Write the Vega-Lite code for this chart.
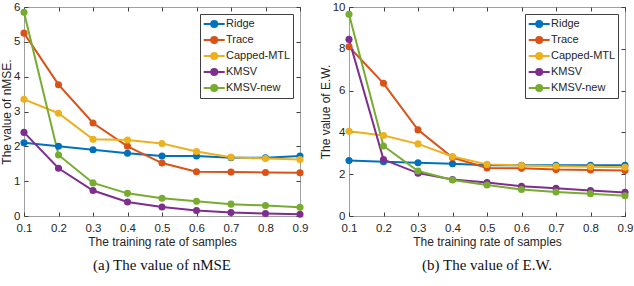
{
  "$schema": "https://vega.github.io/schema/vega-lite/v6.json",
  "padding": {"left": 0, "top": 0, "right": 0, "bottom": 2},
  "background": "white",
  "bounds": "flush",
  "spacing": 49,
  "config": {
    "font": "Liberation Sans",
    "view": {"stroke": "#a0a0a0", "strokeWidth": 1},
    "axis": {
      "grid": false,
      "domain": false,
      "tickSize": -4,
      "tickColor": "#404040",
      "labelColor": "#262626",
      "labelFont": "Liberation Sans",
      "labelFontSize": 11.5,
      "titleFont": "Liberation Sans",
      "titleFontSize": 12,
      "titleFontWeight": "normal",
      "titleColor": "#262626",
      "labelPadding": 8,
      "labelFlush": false
    },
    "legend": {
      "labelFont": "Liberation Sans",
      "labelFontSize": 11,
      "labelColor": "#262626",
      "strokeColor": "#404040",
      "fillColor": "white",
      "padding": 2,
      "rowPadding": 0,
      "labelOffset": 8
    },
    "title": {"font": "Liberation Serif", "fontSize": 15, "fontWeight": "normal", "color": "#111111", "orient": "bottom", "offset": 10}
  },
  "datasets": {
    "nmse": [
      {"rate": 0.1, "method": "Ridge", "value": 2.1},
      {"rate": 0.2, "method": "Ridge", "value": 2.0},
      {"rate": 0.3, "method": "Ridge", "value": 1.9},
      {"rate": 0.4, "method": "Ridge", "value": 1.8},
      {"rate": 0.5, "method": "Ridge", "value": 1.72},
      {"rate": 0.6, "method": "Ridge", "value": 1.72},
      {"rate": 0.7, "method": "Ridge", "value": 1.67},
      {"rate": 0.8, "method": "Ridge", "value": 1.67},
      {"rate": 0.9, "method": "Ridge", "value": 1.72},
      {"rate": 0.1, "method": "Trace", "value": 5.25},
      {"rate": 0.2, "method": "Trace", "value": 3.77},
      {"rate": 0.3, "method": "Trace", "value": 2.67},
      {"rate": 0.4, "method": "Trace", "value": 2.0},
      {"rate": 0.5, "method": "Trace", "value": 1.52},
      {"rate": 0.6, "method": "Trace", "value": 1.27},
      {"rate": 0.7, "method": "Trace", "value": 1.26},
      {"rate": 0.8, "method": "Trace", "value": 1.25},
      {"rate": 0.9, "method": "Trace", "value": 1.24},
      {"rate": 0.1, "method": "Capped-MTL", "value": 3.35},
      {"rate": 0.2, "method": "Capped-MTL", "value": 2.95},
      {"rate": 0.3, "method": "Capped-MTL", "value": 2.2},
      {"rate": 0.4, "method": "Capped-MTL", "value": 2.18},
      {"rate": 0.5, "method": "Capped-MTL", "value": 2.08},
      {"rate": 0.6, "method": "Capped-MTL", "value": 1.85},
      {"rate": 0.7, "method": "Capped-MTL", "value": 1.69},
      {"rate": 0.8, "method": "Capped-MTL", "value": 1.65},
      {"rate": 0.9, "method": "Capped-MTL", "value": 1.62},
      {"rate": 0.1, "method": "KMSV", "value": 2.4},
      {"rate": 0.2, "method": "KMSV", "value": 1.37},
      {"rate": 0.3, "method": "KMSV", "value": 0.73},
      {"rate": 0.4, "method": "KMSV", "value": 0.4},
      {"rate": 0.5, "method": "KMSV", "value": 0.26},
      {"rate": 0.6, "method": "KMSV", "value": 0.16},
      {"rate": 0.7, "method": "KMSV", "value": 0.1},
      {"rate": 0.8, "method": "KMSV", "value": 0.07},
      {"rate": 0.9, "method": "KMSV", "value": 0.05},
      {"rate": 0.1, "method": "KMSV-new", "value": 5.85},
      {"rate": 0.2, "method": "KMSV-new", "value": 1.75},
      {"rate": 0.3, "method": "KMSV-new", "value": 0.95},
      {"rate": 0.4, "method": "KMSV-new", "value": 0.65},
      {"rate": 0.5, "method": "KMSV-new", "value": 0.51},
      {"rate": 0.6, "method": "KMSV-new", "value": 0.42},
      {"rate": 0.7, "method": "KMSV-new", "value": 0.34},
      {"rate": 0.8, "method": "KMSV-new", "value": 0.3},
      {"rate": 0.9, "method": "KMSV-new", "value": 0.25}
    ],
    "ew": [
      {"rate": 0.1, "method": "Ridge", "value": 2.65},
      {"rate": 0.2, "method": "Ridge", "value": 2.6},
      {"rate": 0.3, "method": "Ridge", "value": 2.55},
      {"rate": 0.4, "method": "Ridge", "value": 2.5},
      {"rate": 0.5, "method": "Ridge", "value": 2.43},
      {"rate": 0.6, "method": "Ridge", "value": 2.43},
      {"rate": 0.7, "method": "Ridge", "value": 2.43},
      {"rate": 0.8, "method": "Ridge", "value": 2.43},
      {"rate": 0.9, "method": "Ridge", "value": 2.43},
      {"rate": 0.1, "method": "Trace", "value": 8.1},
      {"rate": 0.2, "method": "Trace", "value": 6.35},
      {"rate": 0.3, "method": "Trace", "value": 4.12},
      {"rate": 0.4, "method": "Trace", "value": 2.8},
      {"rate": 0.5, "method": "Trace", "value": 2.3},
      {"rate": 0.6, "method": "Trace", "value": 2.28},
      {"rate": 0.7, "method": "Trace", "value": 2.22},
      {"rate": 0.8, "method": "Trace", "value": 2.2},
      {"rate": 0.9, "method": "Trace", "value": 2.18},
      {"rate": 0.1, "method": "Capped-MTL", "value": 4.05},
      {"rate": 0.2, "method": "Capped-MTL", "value": 3.85},
      {"rate": 0.3, "method": "Capped-MTL", "value": 3.45},
      {"rate": 0.4, "method": "Capped-MTL", "value": 2.85},
      {"rate": 0.5, "method": "Capped-MTL", "value": 2.47},
      {"rate": 0.6, "method": "Capped-MTL", "value": 2.42},
      {"rate": 0.7, "method": "Capped-MTL", "value": 2.38},
      {"rate": 0.8, "method": "Capped-MTL", "value": 2.36},
      {"rate": 0.9, "method": "Capped-MTL", "value": 2.33},
      {"rate": 0.1, "method": "KMSV", "value": 8.45},
      {"rate": 0.2, "method": "KMSV", "value": 2.7},
      {"rate": 0.3, "method": "KMSV", "value": 2.05},
      {"rate": 0.4, "method": "KMSV", "value": 1.75},
      {"rate": 0.5, "method": "KMSV", "value": 1.6},
      {"rate": 0.6, "method": "KMSV", "value": 1.42},
      {"rate": 0.7, "method": "KMSV", "value": 1.33},
      {"rate": 0.8, "method": "KMSV", "value": 1.22},
      {"rate": 0.9, "method": "KMSV", "value": 1.13},
      {"rate": 0.1, "method": "KMSV-new", "value": 9.65},
      {"rate": 0.2, "method": "KMSV-new", "value": 3.35},
      {"rate": 0.3, "method": "KMSV-new", "value": 2.15},
      {"rate": 0.4, "method": "KMSV-new", "value": 1.72},
      {"rate": 0.5, "method": "KMSV-new", "value": 1.48},
      {"rate": 0.6, "method": "KMSV-new", "value": 1.27},
      {"rate": 0.7, "method": "KMSV-new", "value": 1.15},
      {"rate": 0.8, "method": "KMSV-new", "value": 1.07},
      {"rate": 0.9, "method": "KMSV-new", "value": 0.97}
    ]
  },
  "hconcat": [
    {
      "width": 276,
      "height": 209,
      "title": {"text": "(a)  The value of nMSE"},
      "data": {"name": "nmse"},
      "encoding": {
        "color": {"field": "method", "type": "nominal", "sort": ["Ridge","Trace","Capped-MTL","KMSV","KMSV-new"], "scale": {"domain": ["Ridge","Trace","Capped-MTL","KMSV","KMSV-new"], "range": ["#0072BD","#D95319","#EDB120","#7E2F8E","#77AC30"]}, "legend": {"title": null, "orient": "top-right", "offset": 7, "symbolType": "M-0.9,0L2.1,0M0.17,0A0.43,0.43 0 1,1 1.03,0A0.43,0.43 0 1,1 0.17,0Z", "symbolSize": 196, "symbolStrokeWidth": 2}}
      },
      "layer": [
        {
          "mark": {"type": "line", "strokeWidth": 2},
          "encoding": {
            "x": {"field": "rate", "type": "quantitative", "scale": {"domain": [0.1, 0.9]}, "axis": {"values": [0.1,0.2,0.3,0.4,0.5,0.6,0.7,0.8,0.9], "format": ".1f", "title": "The training rate of samples", "titlePadding": 3, "labelPadding": 10}},
            "y": {"field": "value", "type": "quantitative", "scale": {"domain": [0, 6], "nice": false}, "axis": {"values": [0,1,2,3,4,5,6], "title": "The value of nMSE.", "titlePadding": 0}}
          }
        },
        {
          "mark": {"type": "point", "filled": true, "size": 50, "opacity": 1},
          "encoding": {
            "x": {"field": "rate", "type": "quantitative", "axis": {"orient": "top", "values": [0.1,0.2,0.3,0.4,0.5,0.6,0.7,0.8,0.9], "labels": false, "title": null}},
            "y": {"field": "value", "type": "quantitative", "axis": {"orient": "right", "values": [0,1,2,3,4,5,6], "labels": false, "title": null}}
          }
        }
      ],
      "resolve": {"axis": {"x": "independent", "y": "independent"}}
    },
    {
      "width": 276,
      "height": 209,
      "title": {"text": "(b)  The value of E.W."},
      "data": {"name": "ew"},
      "encoding": {
        "color": {"field": "method", "type": "nominal", "sort": ["Ridge","Trace","Capped-MTL","KMSV","KMSV-new"], "scale": {"domain": ["Ridge","Trace","Capped-MTL","KMSV","KMSV-new"], "range": ["#0072BD","#D95319","#EDB120","#7E2F8E","#77AC30"]}, "legend": {"title": null, "orient": "top-right", "offset": 7, "symbolType": "M-0.9,0L2.1,0M0.17,0A0.43,0.43 0 1,1 1.03,0A0.43,0.43 0 1,1 0.17,0Z", "symbolSize": 196, "symbolStrokeWidth": 2}}
      },
      "layer": [
        {
          "mark": {"type": "line", "strokeWidth": 2},
          "encoding": {
            "x": {"field": "rate", "type": "quantitative", "scale": {"domain": [0.1, 0.9]}, "axis": {"values": [0.1,0.2,0.3,0.4,0.5,0.6,0.7,0.8,0.9], "format": ".1f", "title": "The training rate of samples", "titlePadding": 3, "labelPadding": 10}},
            "y": {"field": "value", "type": "quantitative", "scale": {"domain": [0, 10], "nice": false}, "axis": {"values": [0,2,4,6,8,10], "title": "The value of E.W.", "titlePadding": 0}}
          }
        },
        {
          "mark": {"type": "point", "filled": true, "size": 50, "opacity": 1},
          "encoding": {
            "x": {"field": "rate", "type": "quantitative", "axis": {"orient": "top", "values": [0.1,0.2,0.3,0.4,0.5,0.6,0.7,0.8,0.9], "labels": false, "title": null}},
            "y": {"field": "value", "type": "quantitative", "axis": {"orient": "right", "values": [0,2,4,6,8,10], "labels": false, "title": null}}
          }
        }
      ],
      "resolve": {"axis": {"x": "independent", "y": "independent"}}
    }
  ],
  "resolve": {"scale": {"color": "independent"}, "legend": {"color": "independent"}}
}
